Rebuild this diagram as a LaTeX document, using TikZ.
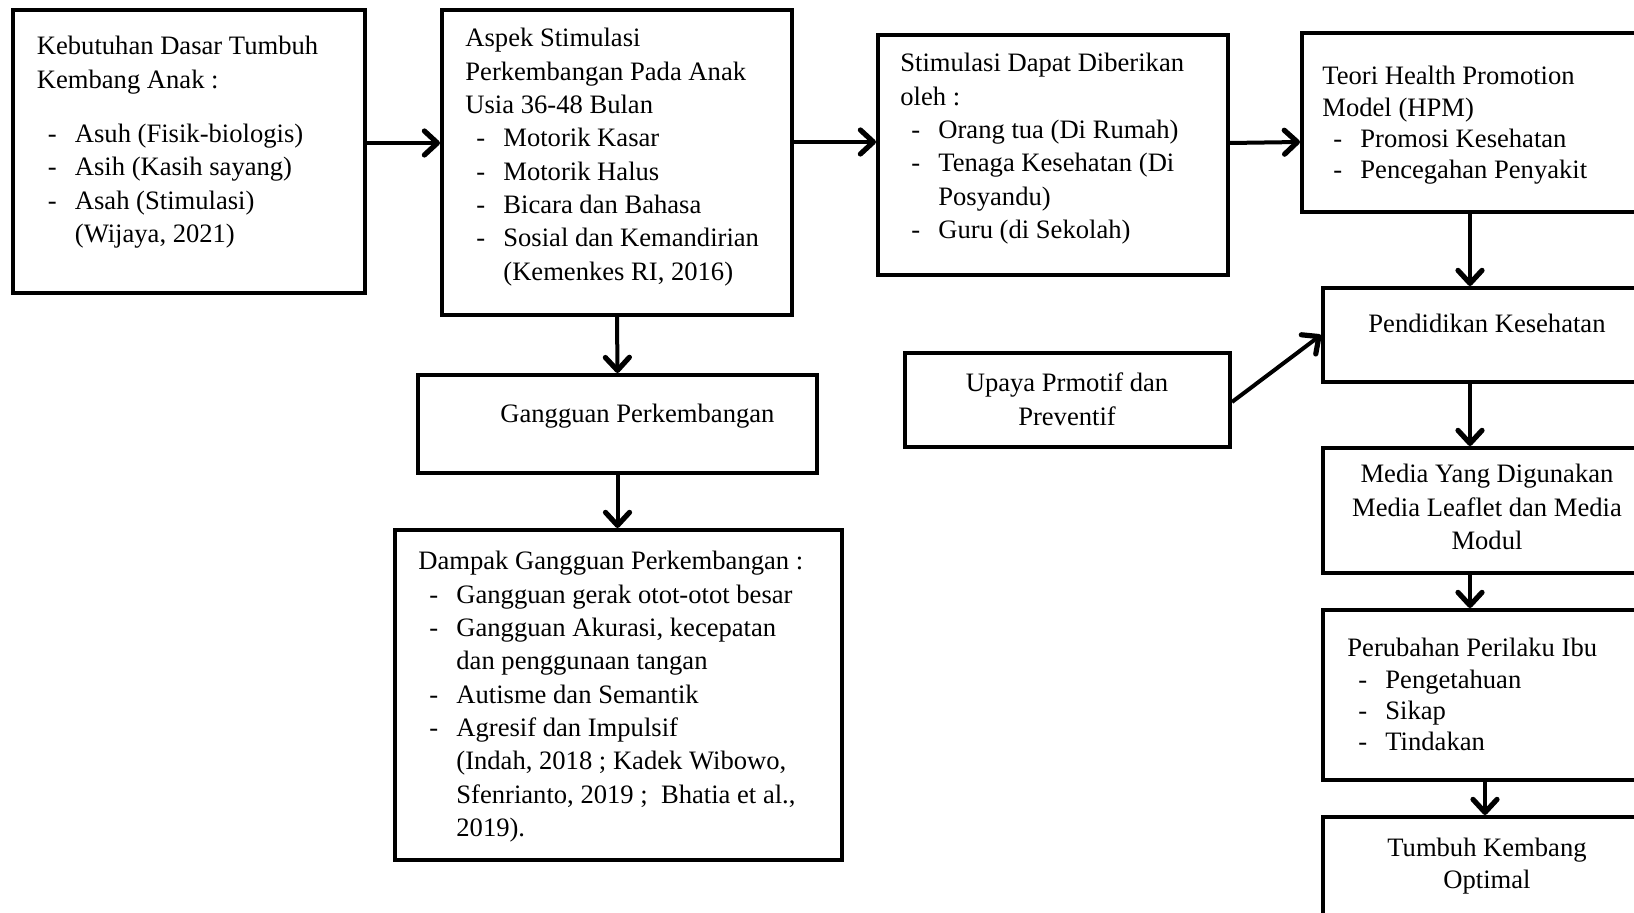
\documentclass[tikz,border=0pt]{standalone}
\usepackage{fontspec}
\setmainfont{Liberation Serif}
\usetikzlibrary{arrows.meta}
\newcommand\myitem[1]{\hspace*{5.5pt}\makebox[13.5pt][l]{-}#1}
\newcommand\mycont[1]{\hspace*{19pt}#1}
\tikzset{
  box/.style={draw, line width=2pt, inner sep=0pt, fill=white},
  txt/.style={inner sep=0pt, font=\fontsize{13.3pt}{16.65pt}\selectfont},
  txtb/.style={inner sep=0pt, font=\fontsize{13.3pt}{15.6pt}\selectfont},
  arr/.style={line width=2pt, -{Straight Barb[length=6.5pt,width=12pt,line width=0pt 1.3,round]}}
}
\begin{document}
\begin{tikzpicture}[x=0.5pt,y=-0.5pt]
\useasboundingbox (0,0) rectangle (1634,913);
\clip (0,0) rectangle (1634,913);
\fill[white] (0,0) rectangle (1634,913);
% boxes
\node[box, minimum width=176pt, minimum height=141.5pt] (b1) at (189,151.5) {};
\node[box, minimum width=175pt, minimum height=152.5pt] (b2) at (617,162.5) {};
\node[box, minimum width=175pt, minimum height=120pt] (b3) at (1053,155) {};
\node[box, minimum width=180pt, minimum height=89.5pt] (b4) at (1482,122.5) {};
\node[box, minimum width=168pt, minimum height=47pt] (pend) at (1491,335) {};
\node[box, minimum width=168pt, minimum height=62.5pt] (media) at (1491,510.5) {};
\node[box, minimum width=168pt, minimum height=85pt] (perub) at (1491,695) {};
\node[box, minimum width=168pt, minimum height=66.5pt] (tumbuh) at (1491,883.5) {};
\node[box, minimum width=162.5pt, minimum height=47pt] (upaya) at (1067.5,400) {};
\node[box, minimum width=199.5pt, minimum height=49pt] (gang) at (617.5,424) {};
\node[box, minimum width=223.5pt, minimum height=165pt] (dampak) at (618.5,695) {};
% texts
\node[txt, anchor=base west] (t1) at (36.5,55) {\begin{tabular}[t]{@{}l@{}}
Kebutuhan Dasar Tumbuh\\
Kembang Anak :\\[10.5pt]
\myitem{Asuh (Fisik-biologis)}\\
\myitem{Asih (Kasih sayang)}\\
\myitem{Asah (Stimulasi)}\\
\mycont{(Wijaya, 2021)}
\end{tabular}};
\node[txt, anchor=base west] (t2) at (465,47) {\begin{tabular}[t]{@{}l@{}}
Aspek Stimulasi\\
Perkembangan Pada Anak\\
Usia 36-48 Bulan\\
\myitem{Motorik Kasar}\\
\myitem{Motorik Halus}\\
\myitem{Bicara dan Bahasa}\\
\myitem{Sosial dan Kemandirian}\\
\mycont{(Kemenkes RI, 2016)}
\end{tabular}};
\node[txt, anchor=base west] (t3) at (900,72) {\begin{tabular}[t]{@{}l@{}}
Stimulasi Dapat Diberikan\\
oleh :\\
\myitem{Orang tua (Di Rumah)}\\
\myitem{Tenaga Kesehatan (Di}\\
\mycont{Posyandu)}\\
\myitem{Guru (di Sekolah)}
\end{tabular}};
\node[txtb, anchor=base west] (t4) at (1322,85) {\begin{tabular}[t]{@{}l@{}}
Teori Health Promotion\\
Model (HPM)\\
\myitem{Promosi Kesehatan}\\
\myitem{Pencegahan Penyakit}
\end{tabular}};
\node[txt, anchor=base] (tp) at (1487,333) {Pendidikan Kesehatan};
\node[txt, anchor=base] (tm) at (1487,483) {\begin{tabular}[t]{@{}c@{}}
Media Yang Digunakan\\
Media Leaflet dan Media\\
Modul
\end{tabular}};
\node[txtb, anchor=base west] (tpr) at (1347,657) {\begin{tabular}[t]{@{}l@{}}
Perubahan Perilaku Ibu\\
\myitem{Pengetahuan}\\
\myitem{Sikap}\\
\myitem{Tindakan}
\end{tabular}};
\node[txtb, anchor=base] (tt) at (1487,857) {\begin{tabular}[t]{@{}c@{}}
Tumbuh Kembang\\
Optimal
\end{tabular}};
\node[txt, anchor=base] (tu) at (1067,392) {\begin{tabular}[t]{@{}c@{}}
Upaya Prmotif dan\\
Preventif
\end{tabular}};
\node[txt, anchor=base west] (tg) at (500,423) {Gangguan Perkembangan};
\node[txt, anchor=base west] (td) at (418,570) {\begin{tabular}[t]{@{}l@{}}
Dampak Gangguan Perkembangan :\\
\myitem{Gangguan gerak otot-otot besar}\\
\myitem{Gangguan Akurasi, kecepatan}\\
\mycont{dan penggunaan tangan}\\
\myitem{Autisme dan Semantik}\\
\myitem{Agresif dan Impulsif}\\
\mycont{(Indah, 2018 ; Kadek Wibowo,}\\
\mycont{Sfenrianto, 2019 ;\ \ Bhatia et al.,}\\
\mycont{2019).}
\end{tabular}};
% helper coordinates
\coordinate (ya) at (0,143);
\coordinate (yb) at (0,142);
\coordinate (xr) at (1470,0);
\coordinate (xs) at (1485,0);
% connectors
\draw[arr] (b1.east |- ya) -- (b2.west |- ya);
\draw[arr] (b2.east |- yb) -- (b3.west |- yb);
\draw[arr] (b3.east |- ya) -- (b4.west |- yb);
\draw[arr] (b2.south) -- (gang.north);
\draw[arr] (gang.south) -- (gang.south |- dampak.north);
\draw[arr] (xr |- b4.south) -- (xr |- pend.north);
\draw[arr] (xr |- pend.south) -- (xr |- media.north);
\draw[arr] (xr |- media.south) -- (xr |- perub.north);
\draw[arr] (xs |- perub.south) -- (xs |- tumbuh.north);
\draw[arr] ([yshift=-1pt]upaya.east) -- (pend.west);
\end{tikzpicture}
\end{document}
